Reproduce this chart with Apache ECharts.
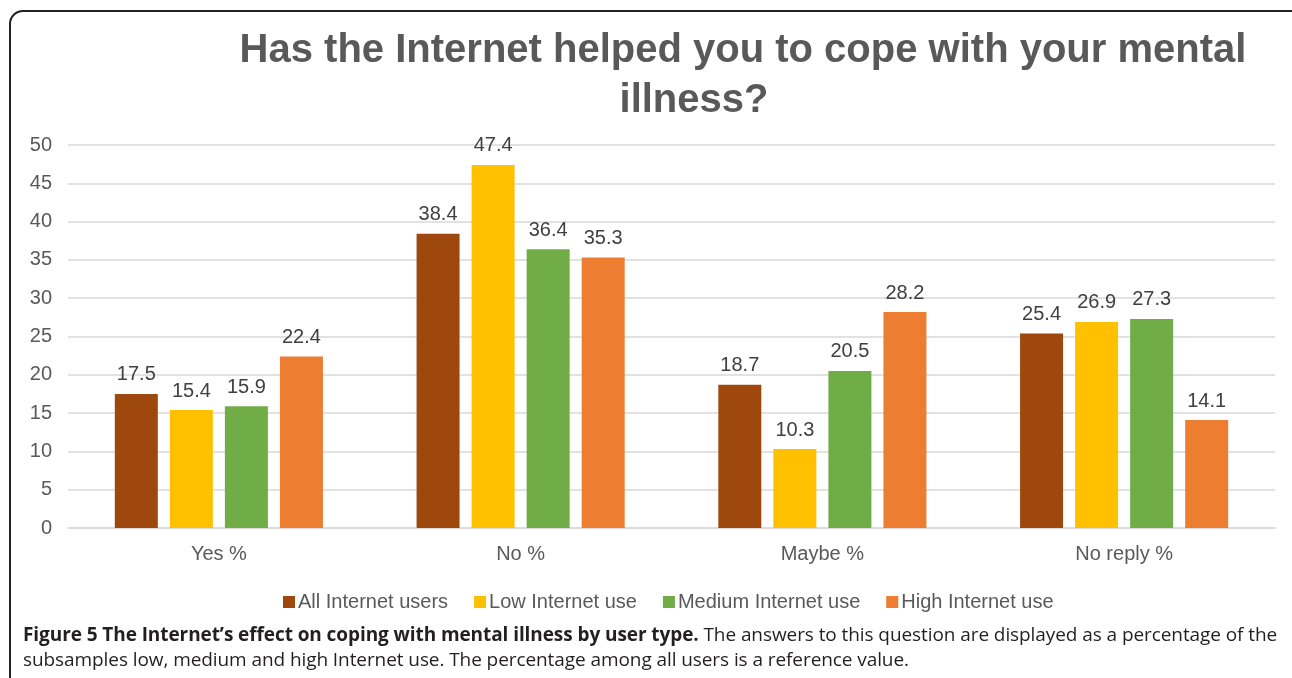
<!DOCTYPE html>
<html lang="en">
<head>
    <meta charset="UTF-8">
    <title>Internet and mental illness</title>
    <script src="https://cdn.jsdelivr.net/npm/echarts@6/dist/echarts.min.js"></script>
    <style>
        html, body { margin: 0; padding: 0; background: #fff; overflow: hidden; }
        #frame {
            position: absolute; left: 9px; top: 10px; width: 1300px; height: 700px;
            border: 2px solid #222; border-radius: 14px; box-sizing: border-box;
        }
        #chart { position: absolute; left: 0; top: 0; width: 1292px; height: 678px; }
        #caption {
            position: absolute; left: 23px; top: 622px; width: 1264px;
            font-family: "Open Sans", sans-serif; font-size: 19px; line-height: 25px; color: #231f20;
            letter-spacing: -0.08px;
        }
    </style>
</head>
<body>
<div id="frame"></div>
<div id="chart"></div>
<div id="caption"><b>Figure 5 The Internet’s effect on coping with mental illness by user type.</b> The answers to this question are displayed as a percentage of the subsamples low, medium and high Internet use. The percentage among all users is a reference value.</div>

<script type="text/javascript">
    var categories = ['Yes %', 'No %', 'Maybe %', 'No reply %'];
    var seriesNames = ['All Internet users', 'Low Internet use', 'Medium Internet use', 'High Internet use'];
    var allUsers = [17.5, 38.4, 18.7, 25.4];
    var lowUse = [15.4, 47.4, 10.3, 26.9];
    var mediumUse = [15.9, 36.4, 20.5, 27.3];
    var highUse = [22.4, 35.3, 28.2, 14.1];
    var colors = ['#9E480E', '#FFC000', '#70AD47', '#ED7D31'];

    var font = 'Liberation Sans, Arial, sans-serif';
    var myChart = echarts.init(document.getElementById('chart'));

    var values = [allUsers, lowUse, mediumUse, highUse];
    var series = [];
    for (var i = 0; i < values.length; i++) {
        series.push({
            name: seriesNames[i],
            type: 'bar',
            data: values[i],
            barWidth: 43,
            barGap: '28%',
            itemStyle: {color: colors[i]},
            label: {
                show: true,
                position: 'top',
                distance: 9,
                color: '#404040',
                fontSize: 20,
                fontFamily: font
            }
        });
    }

    var option = {
        animation: false,
        color: colors,
        title: [{
            text: 'Has the Internet helped you to cope with your mental',
            left: 738, top: 26, textAlign: 'center',
            textStyle: {fontSize: 40, fontWeight: 'bold', color: '#595959', fontFamily: font}
        }, {
            text: 'illness?',
            left: 689, top: 76, textAlign: 'center',
            textStyle: {fontSize: 40, fontWeight: 'bold', color: '#595959', fontFamily: font}
        }],
        legend: {
            data: seriesNames,
            top: 587,
            left: 278,
            icon: 'rect',
            itemWidth: 12,
            itemHeight: 12,
            itemGap: 26,
            textStyle: {fontSize: 20, color: '#595959', fontFamily: font, padding: [0, 0, 0, -2]}
        },
        grid: {left: 68, right: 17, top: 145, bottom: 150, containLabel: false},
        xAxis: {
            type: 'category',
            data: categories,
            axisLine: {lineStyle: {color: '#d9d9d9', width: 1.5}},
            axisTick: {show: false},
            axisLabel: {fontSize: 20, color: '#595959', margin: 16, fontFamily: font}
        },
        yAxis: {
            type: 'value',
            min: 0, max: 50, interval: 5,
            axisLine: {show: false},
            axisTick: {show: false},
            splitLine: {lineStyle: {color: '#d9d9d9', width: 1.5}},
            axisLabel: {fontSize: 20, color: '#595959', margin: 16, fontFamily: font}
        },
        series: series
    };
    myChart.setOption(option);
</script>
</body>
</html>
